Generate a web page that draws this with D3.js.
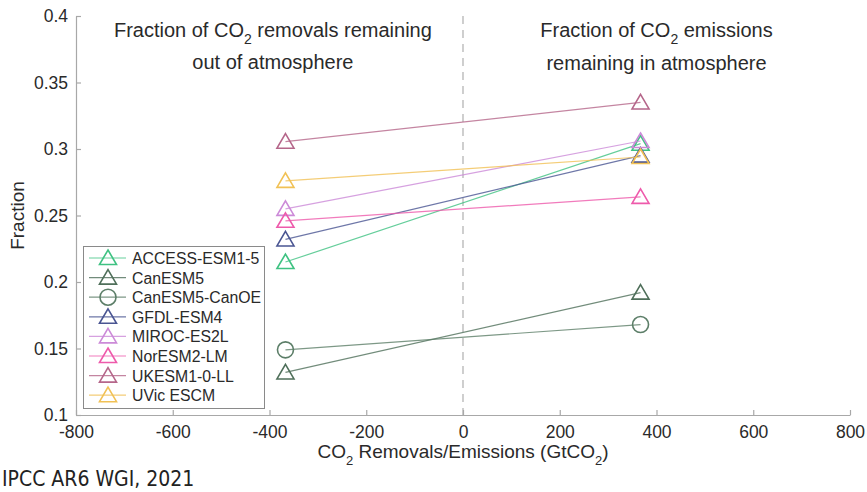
<!DOCTYPE html>
<html>
<head>
<meta charset="utf-8">
<script src="https://cdn.jsdelivr.net/npm/d3@7"></script>
<style>
  body { margin: 0; background: #fff; }
  svg { display: block; font-family: "Liberation Sans", Arial, sans-serif; }
</style>
</head>
<body>
<svg id="chart" width="867" height="492"></svg>
<script>
// model names, marker shapes and colours (legend order)
var models = ["ACCESS-ESM1-5", "CanESM5", "CanESM5-CanOE", "GFDL-ESM4", "MIROC-ES2L", "NorESM2-LM", "UKESM1-0-LL", "UVic ESCM"];
var markers = ["triangle", "triangle", "circle", "triangle", "triangle", "triangle", "triangle", "triangle"];
var colors = ["#3fc282", "#4f6f5a", "#5c7e68", "#4a5592", "#cc8ad8", "#ee5aab", "#b5668a", "#f1c155"];

// x positions: CO2 removals / emissions (GtCO2)
var xRemoval = -367, xEmission = 367;
// fraction remaining
var removalFrac = [0.215, 0.132, 0.149, 0.232, 0.255, 0.246, 0.3055, 0.276];
var emissionFrac = [0.304, 0.192, 0.168, 0.295, 0.306, 0.264, 0.335, 0.294];

var xTicks = [-800, -600, -400, -200, 0, 200, 400, 600, 800];
var yTicks = [0.1, 0.15, 0.2, 0.25, 0.3, 0.35, 0.4];

var svg = d3.select("#chart");

var x = d3.scaleLinear().domain([-800, 800]).range([76, 850]),
    y = d3.scaleLinear().domain([0.1, 0.4]).range([415, 16]);

var axisColor = "#a8a8a8", textColor = "#2a2a2a";

// dashed zero line
svg.append("line")
  .attr("x1", x(0)).attr("x2", x(0))
  .attr("y1", y(0.4)).attr("y2", y(0.1))
  .attr("stroke", "#b5b5b5")
  .attr("stroke-width", 1.3)
  .attr("stroke-dasharray", "8,6");

// axes (ticks pointing in, MATLAB style); plain hyphen for negatives
var xAxis = svg.append("g")
  .attr("transform", "translate(0," + y(0.1) + ")")
  .call(d3.axisBottom(x).tickValues(xTicks).tickSizeInner(-5).tickSizeOuter(0).tickPadding(11)
    .tickFormat(function(d){ return String(d); }));
var yAxis = svg.append("g")
  .attr("transform", "translate(" + x(-800) + ",0)")
  .call(d3.axisLeft(y).tickValues(yTicks).tickSizeInner(-5).tickSizeOuter(0).tickPadding(8)
    .tickFormat(function(d){ return String(+d.toFixed(2)); }));

[xAxis, yAxis].forEach(function(a){
  a.select(".domain").attr("stroke", axisColor).attr("stroke-width", 1.2);
  a.selectAll(".tick line").attr("stroke", axisColor).attr("stroke-width", 1.2);
  a.selectAll(".tick text").attr("fill", textColor).style("font-size", "17.5px");
});

// axis titles
svg.append("text")
  .attr("transform", "translate(24," + ((y(0.1) + y(0.4)) / 2) + ") rotate(-90)")
  .attr("text-anchor", "middle")
  .attr("fill", textColor)
  .style("font-size", "19px")
  .text("Fraction");

var xl = svg.append("text")
  .attr("x", x(0)).attr("y", 458)
  .attr("text-anchor", "middle")
  .attr("fill", textColor)
  .style("font-size", "19px");
xl.append("tspan").text("CO");
xl.append("tspan").attr("dy", 7).style("font-size", "13px").text("2");
xl.append("tspan").attr("dy", -7).text(" Removals/Emissions (GtCO");
xl.append("tspan").attr("dy", 7).style("font-size", "13px").text("2");
xl.append("tspan").attr("dy", -7).text(")");

// annotations
function co2Text(cx, cy, before, after){
  var t = svg.append("text")
    .attr("x", cx).attr("y", cy)
    .attr("text-anchor", "middle")
    .attr("fill", textColor)
    .style("font-size", "20px");
  t.append("tspan").text(before + "CO");
  t.append("tspan").attr("dy", 7).style("font-size", "14px").text("2");
  t.append("tspan").attr("dy", -7).text(after);
}
co2Text(x(-393), 37, "Fraction of ", " removals remaining");
svg.append("text").attr("x", x(-393)).attr("y", 69).attr("text-anchor", "middle")
  .attr("fill", textColor).style("font-size", "20px").text("out of atmosphere");
co2Text(x(400), 37, "Fraction of ", " emissions");
svg.append("text").attr("x", x(400)).attr("y", 70).attr("text-anchor", "middle")
  .attr("fill", textColor).style("font-size", "20px").text("remaining in atmosphere");

// marker shapes
var triPath = "M0,-8 L8.5,6.5 L-8.5,6.5 Z";
function drawMarker(g, shape, color, cx, cy){
  if (shape === "circle") {
    g.append("circle").attr("cx", cx).attr("cy", cy).attr("r", 8)
      .attr("fill", "none").attr("stroke", color).attr("stroke-width", 1.6);
  } else {
    g.append("path").attr("d", triPath)
      .attr("transform", "translate(" + cx + "," + cy + ")")
      .attr("fill", "none").attr("stroke", color).attr("stroke-width", 1.6)
      .attr("stroke-linejoin", "miter");
  }
}

// series
var series = svg.append("g").attr("class", "series");
models.forEach(function(m, i){
  var g = series.append("g");
  g.append("line")
    .attr("x1", x(xRemoval)).attr("y1", y(removalFrac[i]))
    .attr("x2", x(xEmission)).attr("y2", y(emissionFrac[i]))
    .attr("stroke", colors[i]).attr("stroke-width", 1.2).attr("stroke-opacity", 0.8);
  drawMarker(g, markers[i], colors[i], x(xRemoval), y(removalFrac[i]));
  drawMarker(g, markers[i], colors[i], x(xEmission), y(emissionFrac[i]));
});

// legend
var lg = svg.append("g").attr("class", "legend");
lg.append("rect")
  .attr("x", 83.5).attr("y", 246.5).attr("width", 181).attr("height", 162)
  .attr("fill", "#fff").attr("stroke", "#8a8a8a").attr("stroke-width", 1);
models.forEach(function(m, i){
  var ly = 258 + i * 19.6;
  lg.append("line").attr("x1", 89).attr("x2", 126).attr("y1", ly).attr("y2", ly)
    .attr("stroke", colors[i]).attr("stroke-width", 1.2).attr("stroke-opacity", 0.8);
  drawMarker(lg, markers[i], colors[i], 108, ly);
  lg.append("text").attr("x", 132).attr("y", ly + 6)
    .attr("fill", textColor).style("font-size", "15.8px").text(m);
});

// source note
svg.append("text")
  .attr("x", 2).attr("y", 486)
  .attr("fill", "#222")
  .style("font-family", "'Liberation Sans Narrow', 'DejaVu Sans Condensed', sans-serif")
  .style("font-size", "21px")
  .text("IPCC AR6 WGI, 2021");
</script>
</body>
</html>
